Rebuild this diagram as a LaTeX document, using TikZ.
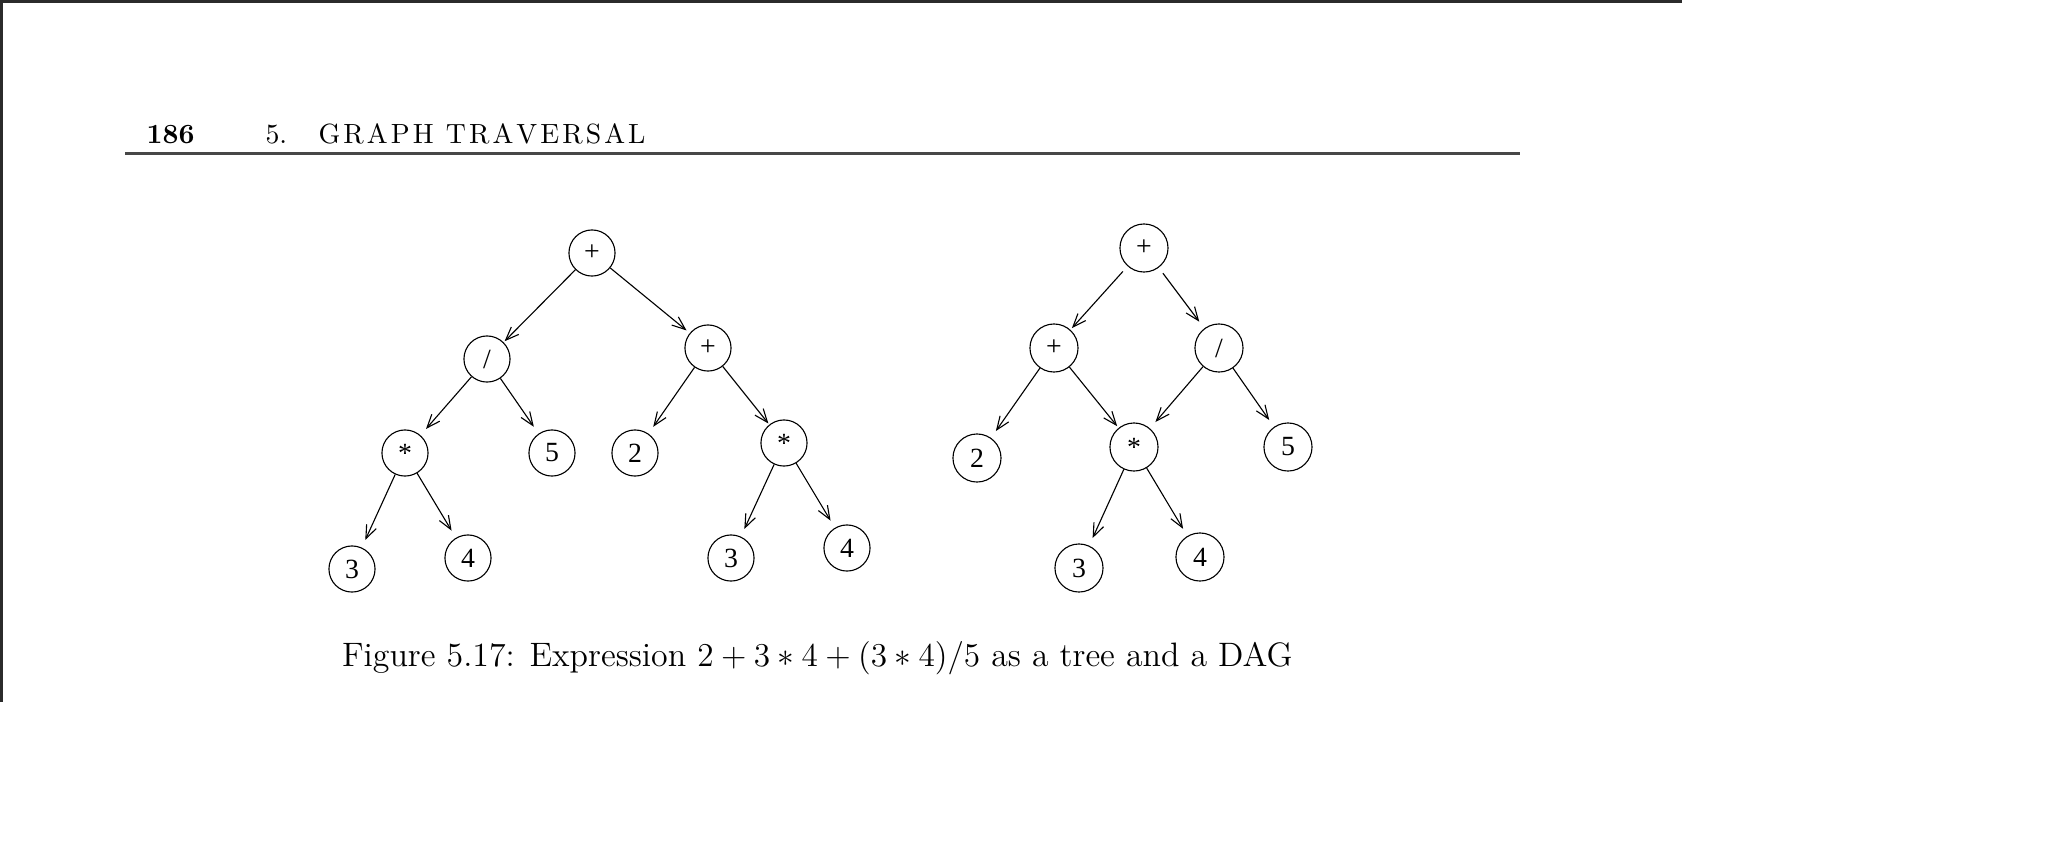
\documentclass[tikz,border=0pt]{standalone}
\usepackage{fontspec}
\usepackage{amsmath}
\usepackage{tikz}
\usetikzlibrary{arrows.meta}
\newfontfamily\figfont{Liberation Serif}
\definecolor{framegray}{HTML}{2B2B2B}
\definecolor{rulegray}{HTML}{474747}
\newcommand\spreadword[1]{\spreadletters#1\relax}
\def\spreadletters#1{\ifx#1\relax\else#1\kern1.1pt\relax\expandafter\spreadletters\fi}

\begin{document}
\begin{tikzpicture}[x = 0.36pt, y = -0.36pt,
	vertex/.style = {circle, draw, line width = 0.4pt, inner sep = 0pt, minimum size = 16.6pt, font = \figfont},
	dagvertex/.style = {vertex, minimum size = 17.3pt},
	arc/.style = {-{Straight Barb[length = 4.8pt, width = 3.8pt]}, line width = 0.4pt, shorten > = 3pt}]
	\path[fill = white] (0,0) rectangle (2064,864);
	\fill[framegray] (0,0) rectangle (1682,2.5);
	\fill[framegray] (0,0) rectangle (3,702);
	\fill[rulegray] (125,152.3) rectangle (1520,154.7);
	\node[anchor = base west, inner sep = 0pt, font = \bfseries] (page) at (146,143.3) {186};
	\node[anchor = base west, inner sep = 0pt] (chapnum) at (265,143.3) {5.};
	\node[anchor = base west, inner sep = 0pt] (chapter) at (318,143.3) {\spreadword{GRAPH}\ \spreadword{TRAVERSAL}};

	\node[vertex] (t-plus) at (592,253) {+};
	\node[vertex] (t-div) at (487,359) {/};
	\node[vertex] (t-plusb) at (708,348) {+};
	\node[vertex] (t-mul) at (405,453) {*};
	\node[vertex] (t-five) at (552,453) {5};
	\node[vertex] (t-two) at (635,453) {2};
	\node[vertex] (t-mulb) at (784,443) {*};
	\node[vertex] (t-three) at (352,569) {3};
	\node[vertex] (t-four) at (468,558) {4};
	\node[vertex] (t-threeb) at (731,558) {3};
	\node[vertex] (t-fourb) at (847,548) {4};
	\draw[arc, shorten > = 0.5pt] (t-plus) -- (t-div);
	\draw[arc, shorten > = 1.5pt] (t-plus) -- (t-plusb);
	\draw[arc] (t-div) -- (t-mul);
	\draw[arc] (t-div) -- (t-five);
	\draw[arc] (t-plusb) -- (t-two);
	\draw[arc, shorten > = 0.5pt] (t-plusb) -- (t-mulb);
	\draw[arc] (t-mul) -- (t-three);
	\draw[arc] (t-mul) -- (t-four);
	\draw[arc] (t-mulb) -- (t-threeb);
	\draw[arc] (t-mulb) -- (t-fourb);

	\node[dagvertex] (d-plus) at (1144,248) {+};
	\node[dagvertex] (d-plusb) at (1054,348) {+};
	\node[dagvertex] (d-div) at (1219,348) {/};
	\node[dagvertex] (d-two) at (977,458) {2};
	\node[dagvertex] (d-mul) at (1134,447) {*};
	\node[dagvertex] (d-five) at (1288,447) {5};
	\node[dagvertex] (d-three) at (1079,568) {3};
	\node[dagvertex] (d-four) at (1200,557) {4};
	\draw[arc, shorten < = 2.5pt, shorten > = 0.8pt] (d-plus) -- (d-plusb);
	\draw[arc, shorten < = 2.5pt] (d-plus) -- (d-div);
	\draw[arc] (d-plusb) -- (d-two);
	\draw[arc, shorten > = 0.8pt] (d-plusb) -- (d-mul);
	\draw[arc] (d-div) -- (d-mul);
	\draw[arc] (d-div) -- (d-five);
	\draw[arc] (d-mul) -- (d-three);
	\draw[arc] (d-mul) -- (d-four);

	\node[anchor = base west, inner sep = 0pt, font = \fontsize{12.2}{14}\selectfont] (caption) at (341.5,666.5) {Figure 5.17: Expression $2+3*4+(3*4)/5$ as a tree and a DAG};
\end{tikzpicture}
\end{document}
